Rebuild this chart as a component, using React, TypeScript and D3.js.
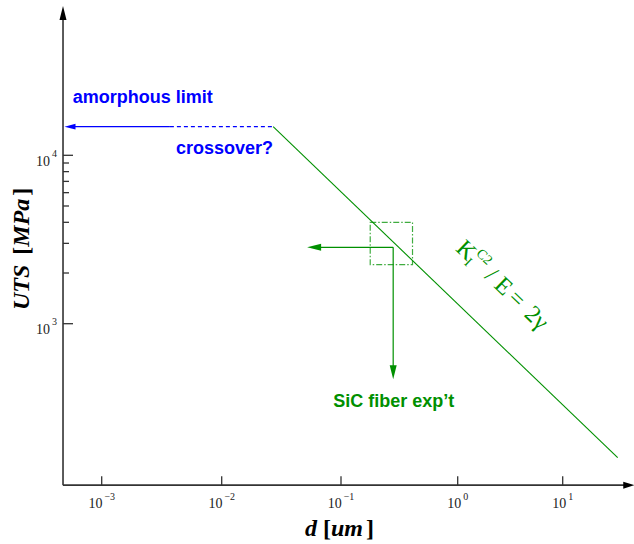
import React from 'react';
import * as d3 from 'd3';

const W = 634;
const H = 544;

// ---- tick data ----
const xDecades = [1e-3, 1e-2, 1e-1, 1, 10];
const xDecadeExp = ['\u22123', '\u22122', '\u22121', '0', '1'];
const yDecades = [1e3, 1e4];
const yDecadeExp = ['3', '4'];
const yMinor = [2000, 3000, 4000, 5000, 6000, 7000, 8000, 9000];

// ---- axis extents (data units) ----
const xExtent = [4.76e-4, 48];
const yExtent = [110, 77000];

// ---- amorphous limit ----
const amorphousUTS = 14800;
const amorphousSolidD = [4.9e-4, 0.0037];
const amorphousDashedD = [0.0037, 0.027];

// ---- Griffith line K_I^c2/E = 2γ ----
const griffithD = [0.027, 33.4];
const griffithUTS = [14800, 160];

// ---- SiC fiber experiment ----
const sicBoxD = [0.178, 0.41];
const sicBoxUTS = [2240, 4000];
const sicPointD = 0.28;
const sicPointUTS = 2840;
const sicArrowLeftD = 0.052;
const sicArrowDownUTS = 468;

// ---- text anchors (data units) ----
const amorphousLabel = { d: 5.73e-4, uts: 20400, text: 'amorphous limit' };
const crossoverLabel = { d: 0.00416, uts: 10200, text: 'crossover?' };
const sicLabel = { d: 0.086, uts: 321, text: 'SiC fiber exp\u2019t' };
const formulaAnchor = { d: 0.945, uts: 2750 };

const BLUE = '#0000ff';
const GREEN = '#009000';
const AXIS = '#333333';
const SANS = 'Liberation Sans, Arial, Helvetica, sans-serif';
const SERIF = 'Liberation Serif, Times New Roman, serif';

function arrowHead(tipX: number, tipY: number, dirX: number, dirY: number, len: number, half: number) {
  const n = Math.hypot(dirX, dirY);
  const ux = dirX / n;
  const uy = dirY / n;
  const bx = tipX - ux * len;
  const by = tipY - uy * len;
  const px = -uy;
  const py = ux;
  return `${tipX},${tipY} ${bx + px * half},${by + py * half} ${bx - px * half},${by - py * half}`;
}

export default function App() {
  const x = d3.scaleLog().domain(xDecades).range([101.7, 221.7, 341, 457.7, 562.7]);
  const y = d3.scaleLog().domain(yDecades).range([323.7, 155.3]);

  const x0 = x(xExtent[0]);
  const x1 = x(xExtent[1]);
  const y0 = y(yExtent[0]);
  const y1 = y(yExtent[1]);

  const line = d3
    .line<[number, number]>()
    .x((p) => x(p[0]))
    .y((p) => y(p[1]));

  const griffithPts: [number, number][] = griffithD.map((d, i) => [d, griffithUTS[i]]);
  const gx0 = x(griffithD[0]);
  const gy0 = y(griffithUTS[0]);
  const gx1 = x(griffithD[1]);
  const gy1 = y(griffithUTS[1]);
  const angle = (Math.atan2(gy1 - gy0, gx1 - gx0) * 180) / Math.PI;

  const ay = y(amorphousUTS);
  const solidTip = x(amorphousSolidD[0]);

  const spx = x(sicPointD);
  const spy = y(sicPointUTS);
  const leftTip = x(sicArrowLeftD);
  const downTip = y(sicArrowDownUTS);

  const fx = x(formulaAnchor.d);
  const fy = y(formulaAnchor.uts);

  return (
    <svg
      width={W}
      height={H}
      viewBox={`0 0 ${W} ${H}`}
      style={{ position: 'absolute', left: 0, top: 0, background: '#fff' }}
    >
      <rect x={0} y={0} width={W} height={H} fill="#fff" />

      {/* axes */}
      <line x1={x0} y1={y0} x2={x1 - 8} y2={y0} stroke={AXIS} strokeWidth={1.6} />
      <polygon points={arrowHead(x1, y0, 1, 0, 11, 3.5)} fill="#000" />
      <line x1={x0} y1={y0} x2={x0} y2={y1 + 10} stroke={AXIS} strokeWidth={1.6} />
      <polygon points={arrowHead(x0, y1, 0, -1, 14, 3.5)} fill="#000" />

      {/* x ticks */}
      {xDecades.map((d, i) => (
        <g key={`xt${i}`}>
          <line x1={x(d)} x2={x(d)} y1={y0} y2={y0 - 9} stroke={AXIS} strokeWidth={1.3} />
          <text x={x(d)} y={y0 + 23} textAnchor="middle" fontFamily={SERIF} fontSize={14} fill="#222">
            10
            <tspan dx={2} dy={-8} fontSize={10}>
              {xDecadeExp[i]}
            </tspan>
          </text>
        </g>
      ))}

      {/* y ticks */}
      {yDecades.map((v, i) => (
        <g key={`yt${i}`}>
          <line x1={x0} x2={x0 + 10} y1={y(v)} y2={y(v)} stroke={AXIS} strokeWidth={1.3} />
          <text x={x0 - 6} y={y(v) + 10.5} textAnchor="end" fontFamily={SERIF} fontSize={14} fill="#222">
            10
            <tspan dx={2} dy={-9} fontSize={10}>
              {yDecadeExp[i]}
            </tspan>
          </text>
        </g>
      ))}
      {yMinor.map((v) => (
        <line key={`ym${v}`} x1={x0} x2={x0 + 6} y1={y(v)} y2={y(v)} stroke={AXIS} strokeWidth={1.3} />
      ))}

      {/* axis labels */}
      <text x={305} y={536} fontFamily={SERIF} fontSize={24} fontWeight="bold" fill="#000">
        <tspan fontStyle="italic">d</tspan>
        <tspan dx={6}>[</tspan>
        <tspan fontStyle="italic">um</tspan>
        <tspan dx={3}>]</tspan>
      </text>
      <text
        transform={`translate(29,310) rotate(-90)`}
        fontFamily={SERIF}
        fontSize={24}
        fontWeight="bold"
        fill="#000"
      >
        <tspan fontStyle="italic">UTS</tspan>
        <tspan dx={10}>[</tspan>
        <tspan fontStyle="italic">MPa</tspan>
        <tspan dx={3}>]</tspan>
      </text>

      {/* amorphous limit */}
      <line x1={solidTip + 8} y1={ay} x2={x(amorphousSolidD[1])} y2={ay} stroke={BLUE} strokeWidth={1.2} />
      <polygon points={arrowHead(solidTip, ay, -1, 0, 11, 2.8)} fill={BLUE} />
      <line
        x1={x(amorphousDashedD[0])}
        y1={ay}
        x2={x(amorphousDashedD[1])}
        y2={ay}
        stroke={BLUE}
        strokeWidth={1.2}
        strokeDasharray="4,3"
      />
      <text x={x(amorphousLabel.d)} y={y(amorphousLabel.uts)} fontFamily={SANS} fontSize={18} fontWeight="bold" fill={BLUE}>
        {amorphousLabel.text}
      </text>
      <text x={x(crossoverLabel.d)} y={y(crossoverLabel.uts)} fontFamily={SANS} fontSize={18} fontWeight="bold" fill={BLUE}>
        {crossoverLabel.text}
      </text>

      {/* Griffith line */}
      <path d={line(griffithPts) || ''} fill="none" stroke={GREEN} strokeWidth={1.1} />

      {/* SiC box */}
      <rect
        x={x(sicBoxD[0])}
        y={y(sicBoxUTS[1])}
        width={x(sicBoxD[1]) - x(sicBoxD[0])}
        height={y(sicBoxUTS[0]) - y(sicBoxUTS[1])}
        fill="none"
        stroke={GREEN}
        strokeOpacity={0.75}
        strokeWidth={1.2}
        strokeDasharray="6,2,1.5,2"
      />
      <line x1={spx} y1={spy} x2={leftTip + 10} y2={spy} stroke={GREEN} strokeWidth={1.2} />
      <polygon points={arrowHead(leftTip, spy, -1, 0, 14, 3.5)} fill={GREEN} />
      <line x1={spx} y1={spy} x2={spx} y2={downTip - 10} stroke={GREEN} strokeWidth={1.2} />
      <polygon points={arrowHead(spx, downTip, 0, 1, 14, 3.5)} fill={GREEN} />
      <text x={x(sicLabel.d)} y={y(sicLabel.uts)} fontFamily={SANS} fontSize={18} fontWeight="bold" fill={GREEN}>
        {sicLabel.text}
      </text>

      {/* formula */}
      <g transform={`translate(${fx},${fy}) rotate(${angle})`} fill={GREEN} fontFamily={SERIF}>
        <text x={0} y={0} fontSize={24}>K</text>
        <text x={16} y={4} fontSize={14}>I</text>
        <text x={18} y={-11} fontSize={14}>C2</text>
        <text x={40} y={0} fontSize={24}>/</text>
        <text x={53} y={0} fontSize={24}>E</text>
        <text x={72} y={0} fontSize={24}>=</text>
        <text x={95} y={0} fontSize={24}>2γ</text>
      </g>
    </svg>
  );
}
